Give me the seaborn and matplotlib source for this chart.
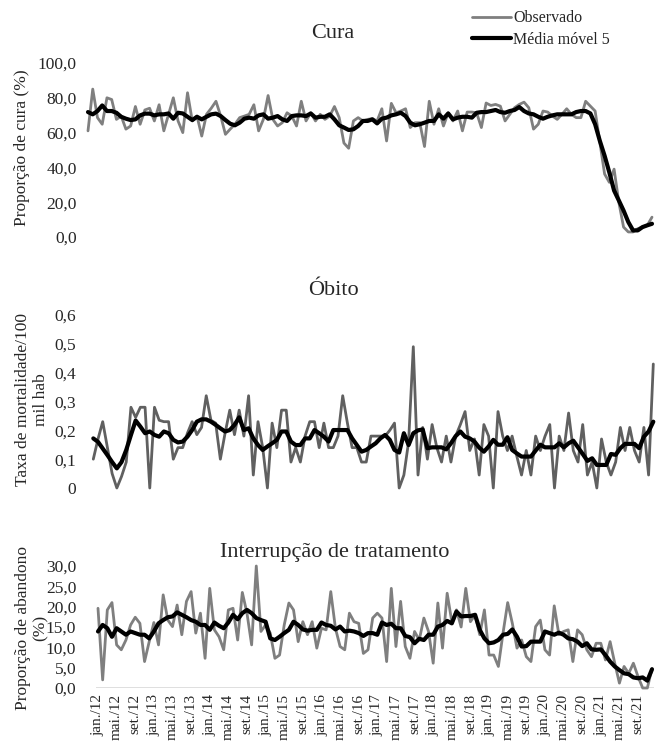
import numpy as np
import pandas as pd
import matplotlib
matplotlib.use("Agg")
import matplotlib.pyplot as plt
import seaborn as sns
from matplotlib.lines import Line2D
from matplotlib.ticker import FuncFormatter

# ---------------- data ----------------
cura_obs = [61, 85, 68.6, 64.8, 80, 79, 67.6, 69.5, 62, 63.8,
            75, 64.8, 73, 74, 66.7, 76, 61, 70.5, 80, 66.7,
            60, 82.9, 66.7, 69.5, 58, 70.5, 74, 78, 69.5, 59,
            62, 64.8, 68.6, 69.5, 70.5, 76, 61, 67.6, 81.3, 67.6,
            63.8, 65.7, 71.4, 69.5, 63.8, 78, 66.7, 71.4, 66.7, 70.5,
            67.6, 69.5, 75, 68.6, 54, 51, 66.7, 68.6, 66.7, 67.6,
            68, 66.7, 73.7, 55.2, 76.8, 71.4, 72.4, 73.7, 62.9, 65.7,
            65.7, 52, 78, 64.8, 73.7, 63.8, 71.4, 66.7, 72.4, 61,
            71.8, 71.8, 71.4, 62.9, 77, 75.6, 76.2, 75.2, 66.7, 70.5,
            74.3, 76.2, 77.5, 74.3, 62, 64.8, 72.4, 71.8, 69.5, 67.6,
            70.5, 73.7, 70.5, 68.6, 68.6, 78, 75.2, 72.4, 54.3, 36.2,
            31.4, 39, 20, 5.7, 2.9, 2.9, 4.8, 5.7, 6.7, 11.4]
cura_mm5 = [71.8, 70.5, 72.4, 75.6, 72.4, 72.4, 71.4, 69.1, 68, 67.2,
            67.6, 69.9, 70.9, 70.9, 69.9, 70.5, 70.5, 71, 68, 71.4,
            71, 69.1, 67.2, 69.1, 67.6, 69.1, 70.5, 70.9, 69.5, 67.2,
            65.1, 64.2, 65.7, 68, 68.6, 68, 69.9, 70.5, 68, 68.6,
            69.5, 67.6, 66.7, 69.5, 69.9, 69.9, 69.5, 71, 68.6, 69.1,
            69.1, 70.5, 67.6, 64.2, 62.9, 61.5, 61.9, 63.8, 66.7, 66.7,
            67.6, 65.3, 68, 68.6, 69.9, 70.5, 71.4, 69.5, 65.7, 64.2,
            64.8, 65.7, 66.7, 66.7, 70.5, 68, 71, 67.6, 68.6, 69.1,
            69.1, 68.6, 71.4, 71.8, 71.8, 72.4, 73, 71.8, 71.4, 72.4,
            73, 74.7, 72.4, 71, 70.5, 69.1, 68, 69.1, 69.9, 70.5,
            70.5, 70.5, 70.5, 71.8, 72.4, 72.4, 71, 64.8, 55.2, 46.7,
            37.1, 26.7, 21, 15.2, 8.6, 3.8, 3.8, 5.7, 6.7, 7.6]

obito_obs = [0.10, 0.17, 0.23, 0.14, 0.05, 0.0, 0.04, 0.09, 0.28, 0.245,
             0.28, 0.28, 0.0, 0.28, 0.235, 0.23, 0.23, 0.10, 0.14, 0.14,
             0.19, 0.23, 0.185, 0.21, 0.32, 0.235, 0.225, 0.10, 0.19, 0.27,
             0.185, 0.27, 0.18, 0.32, 0.045, 0.23, 0.14, 0.0, 0.225, 0.14,
             0.27, 0.27, 0.09, 0.14, 0.09, 0.18, 0.23, 0.23, 0.14, 0.225,
             0.14, 0.14, 0.18, 0.32, 0.225, 0.14, 0.14, 0.09, 0.09, 0.18,
             0.18, 0.18, 0.18, 0.2, 0.225, 0.0, 0.045, 0.16, 0.49, 0.045,
             0.21, 0.10, 0.22, 0.14, 0.09, 0.18, 0.09, 0.18, 0.22, 0.265,
             0.13, 0.17, 0.045, 0.22, 0.18, 0.0, 0.265, 0.18, 0.13, 0.18,
             0.11, 0.045, 0.13, 0.045, 0.18, 0.13, 0.18, 0.22, 0.0, 0.18,
             0.13, 0.26, 0.13, 0.09, 0.22, 0.045, 0.09, 0.0, 0.17, 0.09,
             0.045, 0.09, 0.21, 0.13, 0.21, 0.13, 0.09, 0.21, 0.045, 0.43]
obito_mm5 = [0.172, 0.16, 0.137, 0.114, 0.09, 0.068, 0.09, 0.132, 0.184, 0.234,
             0.213, 0.19, 0.196, 0.184, 0.178, 0.196, 0.19, 0.167, 0.158, 0.161,
             0.178, 0.201, 0.23, 0.238, 0.238, 0.23, 0.219, 0.207, 0.196, 0.201,
             0.219, 0.245, 0.201, 0.207, 0.172, 0.149, 0.132, 0.144, 0.155, 0.167,
             0.196, 0.196, 0.161, 0.149, 0.149, 0.172, 0.172, 0.201, 0.19, 0.178,
             0.161, 0.201, 0.201, 0.201, 0.201, 0.172, 0.149, 0.126, 0.132, 0.144,
             0.155, 0.172, 0.184, 0.167, 0.132, 0.123, 0.19, 0.149, 0.19, 0.2,
             0.203, 0.138, 0.141, 0.141, 0.141, 0.134, 0.155, 0.18, 0.196, 0.178,
             0.172, 0.161, 0.14, 0.126, 0.144, 0.167, 0.15, 0.15, 0.176, 0.132,
             0.12, 0.109, 0.109, 0.109, 0.13, 0.15, 0.141, 0.141, 0.141, 0.155,
             0.141, 0.155, 0.164, 0.141, 0.118, 0.094, 0.103, 0.08, 0.08, 0.08,
             0.118, 0.115, 0.138, 0.153, 0.153, 0.153, 0.138, 0.178, 0.196, 0.23]

aband_obs = [19.6, 2.0, 19.2, 21.0, 10.6, 9.4, 11.8, 15.5, 17.4, 15.9,
             6.5, 11.4, 16.1, 10.6, 22.9, 16.7, 15.1, 20.4, 13.1, 21.3,
             23.7, 13.5, 18.4, 7.3, 24.5, 14.3, 12.6, 9.4, 19.2, 19.6,
             11.8, 23.5, 18.4, 10.6, 30.0, 13.9, 15.5, 13.5, 7.3, 8.1,
             15.5, 20.9, 19.2, 11.4, 16.3, 13.1, 16.3, 9.8, 14.7, 14.3,
             23.7, 14.7, 10.2, 9.4, 18.4, 16.3, 15.9, 8.5, 9.4, 17.2,
             18.4, 17.2, 6.5, 24.5, 10.2, 21.3, 10.2, 7.3, 13.9, 11.8,
             17.2, 13.9, 6.1, 20.9, 9.8, 23.3, 16.3, 19.2, 15.0, 24.5,
             16.3, 18.0, 13.1, 19.2, 8.1, 8.1, 5.3, 13.5, 21.0, 15.9,
             9.8, 11.8, 7.7, 6.5, 15.1, 16.7, 9.4, 8.1, 20.2, 13.1,
             13.9, 14.3, 6.5, 14.3, 13.1, 9.4, 7.7, 11.0, 11.0, 6.9,
             11.4, 6.1, 1.2, 5.3, 3.6, 6.1, 2.8, 0.0, 0.0, 4.8]
aband_mm5 = [13.9, 15.5, 14.7, 12.6, 14.7, 13.9, 13.1, 13.9, 13.5, 13.1,
             13.1, 12.2, 13.9, 15.9, 16.7, 17.4, 17.6, 18.6, 18.0, 17.4,
             16.7, 16.3, 15.5, 15.5, 14.3, 16.1, 15.3, 14.7, 16.1, 18.0,
             16.9, 18.4, 19.2, 18.4, 17.2, 16.7, 16.3, 12.2, 11.8, 12.6,
             13.5, 14.3, 16.3, 15.5, 14.4, 14.1, 14.3, 14.3, 16.1, 15.5,
             15.3, 14.4, 15.1, 13.9, 14.1, 13.9, 13.5, 12.8, 13.5, 13.5,
             13.1, 16.1, 15.5, 15.8, 14.7, 14.7, 12.8, 12.5, 11.0, 12.1,
             11.8, 13.1, 13.1, 15.1, 15.5, 16.5, 15.9, 18.8, 17.6, 17.7,
             17.7, 18.0, 14.3, 12.2, 11.0, 11.2, 11.8, 13.1, 13.3, 14.4,
             12.6, 10.2, 10.3, 11.4, 11.4, 11.4, 13.9, 13.5, 13.1, 13.6,
             13.1, 12.2, 12.0, 11.4, 10.3, 11.0, 9.5, 9.4, 9.5, 8.1,
             6.5, 5.3, 4.4, 3.6, 3.4, 2.6, 2.4, 2.6, 1.8, 4.6]

tick_pos = list(range(0, 120, 4))
tick_labels = ["jan./12", "mai./12", "set./12", "jan./13", "mai./13", "set./13",
               "jan./14", "mai./14", "set./14", "jan./15", "mai./15", "set./15",
               "jan./16", "mai./16", "set./16", "jan./17", "mai./17", "set./17",
               "jan./18", "mai./18", "set./18", "jan./19", "mai./19", "set./19",
               "jan./20", "mai./20", "set./20", "jan./21", "mai./21", "set./21"]

titles = ["Cura", "Óbito", "Interrupção de tratamento"]
ylabels = ["Proporção de cura (%)", "Taxa de mortalidade/100\nmil hab",
           "Proporção de abandono\n(%)"]
legend_labels = ["Observado", "Média móvel 5"]

# ---------------- style ----------------
sns.set_style("white")
plt.rcParams["font.family"] = ["Liberation Serif", "DejaVu Serif"]
plt.rcParams["axes.unicode_minus"] = False

W, H = 663, 742
fig = plt.figure(figsize=(W / 100, H / 100), dpi=100)

def add_ax(x0, x1, ytop, ybot):
    return fig.add_axes([x0 / W, (H - ybot) / H, (x1 - x0) / W, (ybot - ytop) / H])

def panel(x_first, x_last, ytop, ybot):
    step = (x_last - x_first) / 119
    return add_ax(x_first - step / 2, x_last + step / 2, ytop, ybot)

ax1 = panel(88, 652, 63, 237)
ax2 = panel(93.3, 653.3, 315, 488)
ax3 = panel(98, 652, 566, 688)

months = np.arange(120)
specs = [
    (ax1, cura_obs, cura_mm5, (0, 100), np.arange(0, 101, 20), "#7f7f7f",
     lambda v, p: f"{v:.1f}".replace(".", ",")),
    (ax2, obito_obs, obito_mm5, (0, 0.6), np.arange(0, 0.61, 0.1), "#606060",
     lambda v, p: "0" if abs(v) < 1e-9 else f"{v:.1f}".replace(".", ",")),
    (ax3, aband_obs, aband_mm5, (0, 30), np.arange(0, 31, 5), "#7f7f7f",
     lambda v, p: f"{v:.1f}".replace(".", ",")),
]
pads = [6.5, 10.5, 14.0]

for (ax, obs, mm, ylim, yt, gcol, fmt), pad in zip(specs, pads):
    df = pd.DataFrame({"mes": months, "obs": obs, "mm": mm})
    sns.lineplot(data=df, x="mes", y="obs", ax=ax, color=gcol, linewidth=2.0)
    sns.lineplot(data=df, x="mes", y="mm", ax=ax, color="black", linewidth=3.0)
    ax.set_xlim(-0.5, 119.5)
    ax.set_ylim(*ylim)
    ax.set_yticks(yt)
    ax.yaxis.set_major_formatter(FuncFormatter(fmt))
    ax.tick_params(axis="y", labelsize=12.5, pad=pad, length=0)
    ax.set_xlabel("")
    ax.set_ylabel("")
    for s in ax.spines.values():
        s.set_visible(False)
    ax.grid(False)
    for line in ax.lines:
        line.set_clip_on(False)

ax1.set_xticks([])
ax2.set_xticks([])
ax3.set_xticks(tick_pos)
ax3.set_xticklabels(tick_labels, rotation=90, fontsize=11)
ax3.tick_params(axis="x", length=0, pad=4)
ax3.axhline(0, color="#d9d9d9", linewidth=1.2, zorder=0)

# titles
fig.text(333 / W, 1 - 33 / H, titles[0], ha="center", va="center", fontsize=16)
fig.text(333 / W, 1 - 290 / H, titles[1], ha="center", va="center", fontsize=16)
fig.text(335 / W, 1 - 553 / H, titles[2], ha="center", va="center", fontsize=16)

# y labels
fig.text(22 / W, 1 - 148 / H, ylabels[0], rotation=90, ha="center", va="center",
         fontsize=12.5)
fig.text(32 / W, 1 - 400 / H, ylabels[1], rotation=90, ha="center", va="center",
         fontsize=12.5, multialignment="center", linespacing=1.15)
fig.text(32 / W, 1 - 628 / H, ylabels[2], rotation=90, ha="center", va="center",
         fontsize=12.5, multialignment="center", linespacing=1.15)

# legend
handles = [Line2D([0], [0], color="#7f7f7f", linewidth=2.0),
           Line2D([0], [0], color="black", linewidth=3.0)]
fig.legend(handles, legend_labels, loc="upper left",
           bbox_to_anchor=(466 / W, 1 - 4 / H), frameon=False, fontsize=11.5,
           handlelength=2.4, handletextpad=0.15, labelspacing=0.35,
           borderaxespad=0)

fig.savefig("out.png", dpi=100)
